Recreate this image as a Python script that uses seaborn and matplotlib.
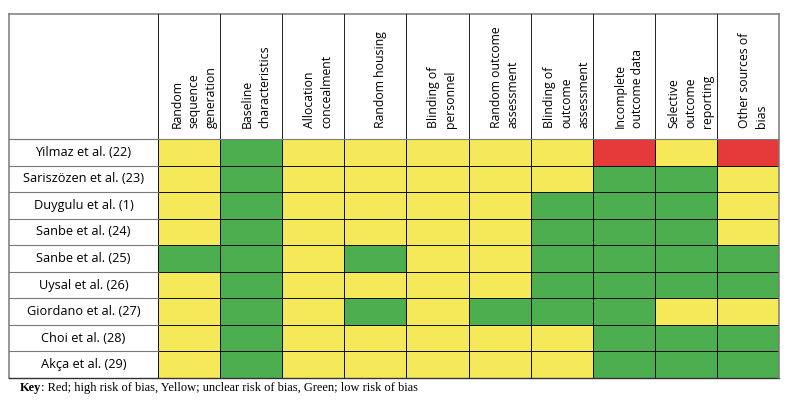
import numpy as np
import pandas as pd
import matplotlib
matplotlib.use("Agg")
import matplotlib.pyplot as plt
import seaborn as sns
from matplotlib.colors import ListedColormap

# risk of bias: 0 = high (red), 1 = unclear (yellow), 2 = low (green)
studies = ["Yilmaz et al. (22)", "Sariszözen et al. (23)", "Duygulu et al. (1)",
           "Sanbe et al. (24)", "Sanbe et al. (25)", "Uysal et al. (26)",
           "Giordano et al. (27)", "Choi et al. (28)", "Akça et al. (29)"]
domains = ["Random\nsequence\ngeneration", "Baseline\ncharacteristics",
           "Allocation\nconcealment", "Random housing", "Blinding of\npersonnel",
           "Random outcome\nassessment", "Blinding of\noutcome\nassessment",
           "Incomplete\noutcome data", "Selective\noutcome\nreporting",
           "Other sources of\nbias"]

yilmaz = [1, 2, 1, 1, 1, 1, 1, 0, 1, 0]
sariszozen = [1, 2, 1, 1, 1, 1, 1, 2, 2, 1]
duygulu = [1, 2, 1, 1, 1, 1, 2, 2, 2, 1]
sanbe_24 = [1, 2, 1, 1, 1, 1, 2, 2, 2, 1]
sanbe_25 = [2, 2, 1, 2, 1, 1, 2, 2, 2, 2]
uysal = [1, 2, 1, 1, 1, 1, 2, 2, 2, 2]
giordano = [1, 2, 1, 2, 1, 2, 2, 2, 1, 1]
choi = [1, 2, 1, 1, 1, 1, 1, 2, 2, 2]
akca = [1, 2, 1, 1, 1, 1, 1, 2, 2, 2]

df = pd.DataFrame([yilmaz, sariszozen, duygulu, sanbe_24, sanbe_25,
                   uysal, giordano, choi, akca], index=studies, columns=domains)

colors = ["#E6393A", "#F5E95A", "#4DAE50"]
font = "Open Sans"

fig = plt.figure(figsize=(7.88, 4.03), dpi=100)
ax = fig.add_axes([158 / 788, 1 - 378 / 403, 621 / 788, 239 / 403])

sns.heatmap(df, ax=ax, cmap=ListedColormap(colors), vmin=0, vmax=2, cbar=False,
            linewidths=0.7, linecolor="#111111", xticklabels=False, yticklabels=False)
ax.set_xlabel("")
ax.set_ylabel("")

n_rows, n_cols = df.shape
lab_w = 149 / 62.1    # width of label column, in cells
head_h = 125 / 26.55  # height of header, in rows
grey = "#7a7a7a"

# table frame
ax.plot([-lab_w, n_cols], [-head_h, -head_h], color=grey, lw=1.1, clip_on=False)
ax.plot([-lab_w, -lab_w], [-head_h, n_rows], color=grey, lw=1.1, clip_on=False)
ax.plot([-lab_w, n_cols], [n_rows, n_rows], color="#333333", lw=1.0, clip_on=False)
ax.plot([n_cols, n_cols], [-head_h, n_rows], color=grey, lw=1.1, clip_on=False)
for j in range(n_cols):
    ax.plot([j, j], [-head_h, 0], color="#222222", lw=0.7, clip_on=False)
for i in range(n_rows):
    ax.plot([-lab_w, 0], [i, i], color=grey, lw=0.8, clip_on=False)
ax.plot([-lab_w, n_cols], [0, 0], color=grey, lw=0.8, clip_on=False)

for i, s in enumerate(studies):
    ax.text(-lab_w / 2, i + 0.5, s, ha="center", va="center",
            fontsize=9.2, family=font)
for j, d in enumerate(domains):
    ax.text(j + 0.58, -0.4, d, rotation=90, ha="center", va="bottom",
            multialignment="left", fontsize=8.8, family=font, linespacing=1.4)

key = fig.text(20 / 788, 1 - 394 / 403, "Key", fontsize=8.9, weight="bold",
               family="Liberation Serif", va="bottom")
ax.annotate(": Red; high risk of bias, Yellow; unclear risk of bias, Green; low risk of bias",
            xy=(1, 0), xycoords=key, va="bottom", ha="left",
            fontsize=8.9, family="Liberation Serif", annotation_clip=False)

fig.savefig("out.png", dpi=100)
